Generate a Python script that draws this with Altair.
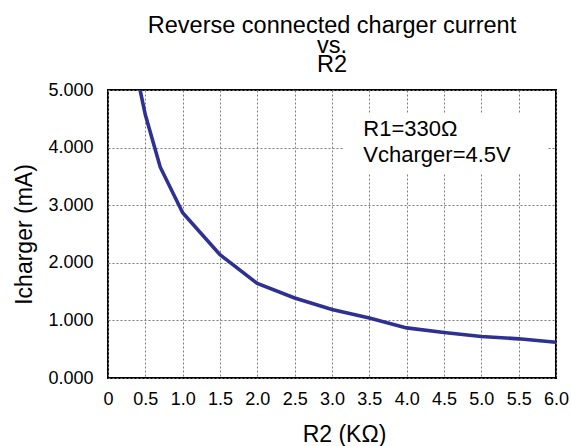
import altair as alt
import pandas as pd

# Measured charger current versus R2
r2_kohm = [0.25, 0.5, 0.7, 1.0, 1.5, 2.0, 2.5, 3.0, 3.5, 4.0, 4.5, 5.0, 5.5, 6.0]
i_charger_ma = [6.1, 4.57, 3.66, 2.87, 2.14, 1.64, 1.39, 1.19, 1.04, 0.87, 0.79, 0.72, 0.68, 0.62]

x_ticks = [0, 0.5, 1.0, 1.5, 2.0, 2.5, 3.0, 3.5, 4.0, 4.5, 5.0, 5.5, 6.0]
y_ticks = [0, 1, 2, 3, 4, 5]

title_lines = ["Reverse connected charger current", "vs.", "R2"]

note_lines = ["R1=330Ω", "Vcharger=4.5V"]
note_x = [3.42, 3.42]
note_y = [4.20, 3.75]

# white panel behind the note (data units)
note_box = {"x": 3.15, "x2": 5.88, "y": 3.56, "y2": 4.60}

FONT = "Liberation Sans"
LINE_COLOR = "#2E3192"
PLOT_W, PLOT_H = 448, 288

curve = pd.DataFrame({"r2": r2_kohm, "i": i_charger_ma})
notes = pd.DataFrame({"text": note_lines, "r2": note_x, "i": note_y})
box = pd.DataFrame({"r2": [note_box["x"]], "r2_end": [note_box["x2"]],
                    "i": [note_box["y"]], "i_end": [note_box["y2"]]})

x_scale = alt.Scale(domain=[0, 6], nice=False, zero=False)
y_scale = alt.Scale(domain=[0, 5], nice=False)

x_axis = alt.Axis(
    values=x_ticks,
    labelExpr="datum.value == 0 ? '0' : format(datum.value, '.1f')",
    grid=True,
    gridColor="#7a7a7a",
    gridDash=[2, 2],
    gridWidth=1,
    ticks=False,
    tickSize=0,
    domain=False,
    labelFont=FONT,
    labelFontSize=18,
    labelColor="black",
    labelBaseline="alphabetic",
    labelPadding=26,
    labelFlush=False,
    labelOverlap=False,
    titleFont=FONT,
    titleFontSize=23,
    titleFontWeight="normal",
    titleColor="black",
    titleBaseline="alphabetic",
    titleAlign="center",
    titleX=236,
    titleY=63,
)

y_axis = alt.Axis(
    values=y_ticks,
    format=".3f",
    grid=True,
    gridColor="#7a7a7a",
    gridDash=[2, 2],
    gridWidth=1,
    ticks=False,
    tickSize=0,
    domain=False,
    labelFont=FONT,
    labelFontSize=18,
    labelColor="black",
    labelPadding=15,
    labelFlush=False,
    labelOverlap=False,
    titleFont=FONT,
    titleFontSize=23,
    titleFontWeight="normal",
    titleColor="black",
    titleBaseline="middle",
    titleX=-84,
)

X = alt.X("r2:Q", scale=x_scale, axis=x_axis, title="R2 (KΩ)")
Y = alt.Y("i:Q", scale=y_scale, axis=y_axis, title="Icharger (mA)")

panel = alt.Chart(box).mark_rect(color="white").encode(
    x=X, x2="r2_end:Q", y=Y, y2="i_end:Q"
)

line = alt.Chart(curve).mark_line(color=LINE_COLOR, strokeWidth=3.6, clip=True).encode(
    x=X, y=Y
)

text = alt.Chart(notes).mark_text(
    font=FONT, fontSize=22, color="black", align="left", baseline="alphabetic"
).encode(x=X, y=Y, text="text:N")

# three-line heading centred over the plot
heading = alt.Chart(pd.DataFrame({"k": [0]})).mark_text(
    text=title_lines,
    font=FONT,
    fontSize=23.5,
    color="black",
    align="center",
    baseline="alphabetic",
    lineHeight=19.5,
).encode(x=alt.value(PLOT_W / 2), y=alt.value(-57))

chart = (
    alt.layer(panel, line, text, heading)
    .properties(
        width=PLOT_W,
        height=PLOT_H,
        autosize=alt.AutoSizeParams(type="none"),
        padding={"left": 108, "top": 90, "right": 15, "bottom": 68},
        background="white",
    )
    .configure_view(stroke="black", strokeWidth=2)
)

chart.save("out.html", embed_options={"renderer": "svg", "actions": False})
